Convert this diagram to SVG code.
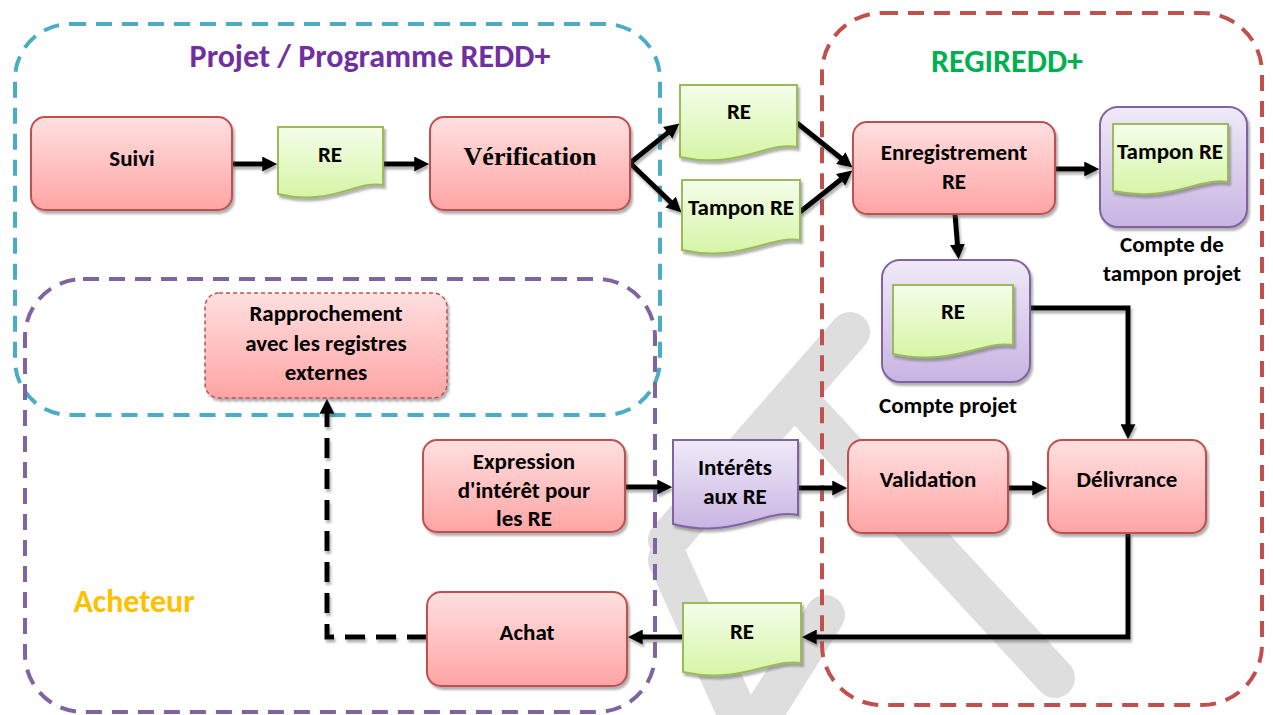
<svg xmlns="http://www.w3.org/2000/svg" width="1273" height="715" viewBox="0 0 1273 715">
<defs>
<linearGradient id="gRed" x1="0" y1="0" x2="0" y2="1"><stop offset="0" stop-color="#FFE0E0"/><stop offset="1" stop-color="#FFA4A4"/></linearGradient>
<linearGradient id="gGreen" x1="0" y1="0" x2="0" y2="1"><stop offset="0" stop-color="#F4FDEA"/><stop offset="1" stop-color="#D6F5A6"/></linearGradient>
<linearGradient id="gPurple" x1="0" y1="0" x2="0" y2="1"><stop offset="0" stop-color="#F0EAF8"/><stop offset="1" stop-color="#C8B4E2"/></linearGradient>
<filter id="sh" x="-10%" y="-10%" width="130%" height="130%"><feDropShadow dx="2" dy="3" stdDeviation="1.2" flood-color="#555" flood-opacity="0.45"/></filter>
<filter id="lsh" x="-10%" y="-10%" width="130%" height="130%"><feDropShadow dx="1.5" dy="3" stdDeviation="0.8" flood-color="#666" flood-opacity="0.5"/></filter>
<marker id="ah" viewBox="0 0 10 10" refX="0.5" refY="5" markerWidth="3" markerHeight="3" orient="auto"><path d="M0,0 L10,5 L0,10 z" fill="#000"/></marker>
</defs>
<style>
.proc{fill:url(#gRed);stroke:#C0504D;stroke-width:2;filter:url(#sh)}
.doc{fill:url(#gGreen);stroke:#9BBB59;stroke-width:2;filter:url(#sh)}
.pdoc{fill:url(#gPurple);stroke:#8064A2;stroke-width:2;filter:url(#sh)}
.pbox{fill:url(#gPurple);stroke:#8064A2;stroke-width:2;filter:url(#sh)}
.t{font-family:Carlito,'Liberation Sans',Arial,sans-serif;font-weight:bold;font-size:23px;fill:#000;text-anchor:middle}
.serif{font-family:'Liberation Serif','Times New Roman',serif;font-weight:bold;font-size:26px;fill:#000;text-anchor:middle}
.ttl{font-family:Carlito,'Liberation Sans',sans-serif;font-weight:bold;font-size:32px;text-anchor:middle}
.grp{fill:none;stroke-width:4;stroke-dasharray:16 10}
.c{fill:none;stroke:#000;stroke-width:5;marker-end:url(#ah)}
.wm{stroke:#DEDEDE;stroke-width:40;stroke-linecap:round;fill:none}
</style>
<rect width="1273" height="715" fill="#fff"/>
<g id="watermark">
<line class="wm" x1="850" y1="332" x2="668" y2="540"/>
<line class="wm" x1="800" y1="402" x2="1055" y2="678"/>
<line class="wm" x1="668" y1="560" x2="738" y2="715"/>
<line class="wm" x1="825" y1="615" x2="762" y2="715"/>
</g>
<g id="groups">
<g id="grp-projet"><rect class="grp" x="15" y="24" width="645" height="391" rx="55" stroke="#4BACC6"/>
<text class="ttl" x="370" y="67" fill="#7030A0">Projet / Programme REDD+</text></g>
<g id="grp-regiredd"><rect class="grp" x="822" y="13" width="440" height="692" rx="60" stroke="#C0504D"/>
<text class="ttl" x="1007" y="72" fill="#00B050">REGIREDD+</text></g>
<g id="grp-acheteur"><rect class="grp" x="25" y="279" width="630" height="433" rx="58" stroke="#8064A2"/>
<text class="ttl" x="134" y="612" fill="#FFC000">Acheteur</text></g>
</g>
<g id="connectors" filter="url(#lsh)">
<path class="c" d="M232,164 H263"/>
<path class="c" d="M383,164 H415"/>
<path class="c" d="M630,163 L668.3,132.4"/>
<path class="c" d="M630,163 L671.2,202.6"/>
<path class="c" d="M797,123 L841.4,158.5"/>
<path class="c" d="M800,212 L841.2,179.3"/>
<path class="c" d="M1055,169 H1085"/>
<path class="c" d="M955,214 L957.5,245"/>
<path class="c" d="M1030,308 H1128 V425"/>
<path class="c" d="M625,487 H658"/>
<path class="c" d="M798,488 H833"/>
<path class="c" d="M1008,488 H1033"/>
<path class="c" d="M1128,533 V637 H816"/>
<path class="c" d="M683,637 H642"/>
<path class="c" d="M427,637 H327 V413" stroke-dasharray="20 11"/>
</g>
<g id="n-suivi"><rect class="proc" x="31" y="117" width="201" height="93" rx="14"/><text class="t" x="132" y="166">Suivi</text></g>
<g id="n-re1"><path class="doc" d="M278,127 H383 V185 C356,180 330,207 278,194 Z"/><text class="t" x="330" y="162">RE</text></g>
<g id="n-verif"><rect class="proc" x="430" y="117" width="200" height="93" rx="14"/><text class="serif" x="530" y="165">Vérification</text></g>
<g id="n-re2"><path class="doc" d="M680,85 H797 V147 C767,141 738,170 680,157 Z"/><text class="t" x="739" y="119">RE</text></g>
<g id="n-tampon1"><path class="doc" d="M682,180 H800 V240 C770,235 740,263 682,250 Z"/><text class="t" x="741" y="215">Tampon RE</text></g>
<g id="n-enreg"><rect class="proc" x="853" y="122" width="202" height="92" rx="14"/><text class="t" x="954" y="160">Enregistrement</text><text class="t" x="954" y="189">RE</text></g>
<g id="n-cpt-tampon"><rect class="pbox" x="1100" y="107" width="147" height="120" rx="18"/><path class="doc" d="M1113,124 H1228 V182 C1199,177 1170,203 1113,191 Z"/><text class="t" x="1170" y="159">Tampon RE</text>
<text class="t" x="1172" y="252">Compte de</text><text class="t" x="1172" y="281">tampon projet</text></g>
<g id="n-cpt-projet"><rect class="pbox" x="882" y="260" width="148" height="122" rx="18"/><path class="doc" d="M893,285 H1013 V345 C983,340 953,367 893,354 Z"/><text class="t" x="953" y="319">RE</text>
<text class="t" x="948" y="413">Compte projet</text></g>
<g id="n-rappro"><rect x="205" y="293" width="242" height="105" rx="14" fill="url(#gRed)" stroke="#C0504D" stroke-width="1.5" stroke-dasharray="4 3" filter="url(#sh)"/><text class="t" x="326" y="321">Rapprochement</text><text class="t" x="326" y="351">avec les registres</text><text class="t" x="326" y="380">externes</text></g>
<g id="n-expr"><rect class="proc" x="423" y="440" width="202" height="92" rx="14"/><text class="t" x="524" y="469">Expression</text><text class="t" x="524" y="498">d'intérêt pour</text><text class="t" x="524" y="526">les RE</text></g>
<g id="n-interets"><path class="pdoc" d="M673,440 H798 V515 C766,508 734,540 673,524 Z"/><text class="t" x="735" y="475">Intérêts</text><text class="t" x="735" y="504">aux RE</text></g>
<g id="n-valid"><rect class="proc" x="848" y="440" width="160" height="93" rx="14"/><text class="t" x="928" y="487">Validation</text></g>
<g id="n-deliv"><rect class="proc" x="1048" y="440" width="158" height="93" rx="14"/><text class="t" x="1127" y="487">Délivrance</text></g>
<g id="n-re3"><path class="doc" d="M683,603 H801 V663 C771,658 741,685 683,672 Z"/><text class="t" x="742" y="639">RE</text></g>
<g id="n-achat"><rect class="proc" x="427" y="592" width="200" height="94" rx="14"/><text class="t" x="527" y="640">Achat</text></g>
</svg>
